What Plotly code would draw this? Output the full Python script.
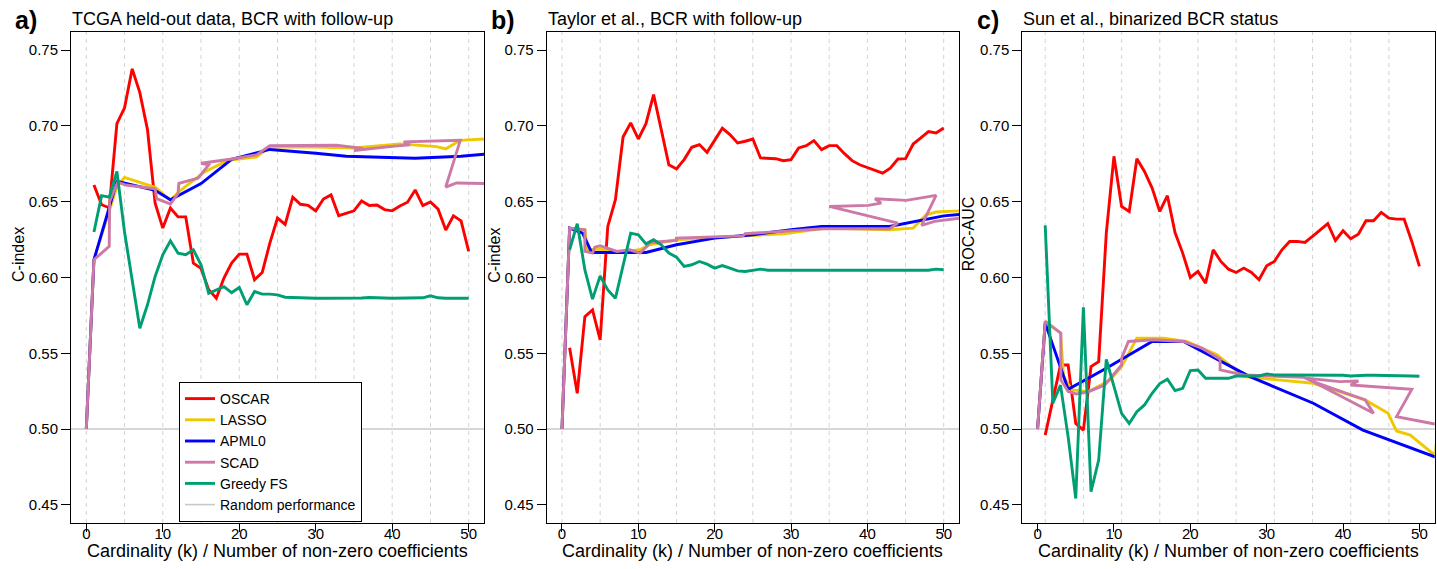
import plotly.graph_objects as go

# ---------------- data ----------------
K_INT = list(range(1, 51))

oscar_a = [0.661, 0.648, 0.646, 0.7015, 0.712, 0.7377, 0.722, 0.6976, 0.649, 0.6326,
           0.6458, 0.640, 0.640, 0.6095, 0.606, 0.592, 0.5863, 0.5996, 0.6095, 0.6154,
           0.6154, 0.5985, 0.6033, 0.6227, 0.6392, 0.6350, 0.6530, 0.6483, 0.6476, 0.644,
           0.6518, 0.6545, 0.6408, 0.6426, 0.6440, 0.6505, 0.6475, 0.6478, 0.6448, 0.644,
           0.6472, 0.6497, 0.6578, 0.6474, 0.6498, 0.6451, 0.6313, 0.6407, 0.6374, 0.6172]
greedy_a = [0.630, 0.654, 0.653, 0.670, 0.630, 0.597, 0.5665, 0.582, 0.6007, 0.615,
            0.6242, 0.616, 0.615, 0.6183, 0.6084, 0.5896, 0.592, 0.594, 0.590, 0.5934,
            0.582, 0.5907, 0.589, 0.589, 0.5885, 0.587, 0.5868, 0.5865, 0.5865, 0.5863,
            0.5863, 0.5863, 0.5863, 0.5863, 0.5863, 0.5865, 0.5868, 0.5868, 0.5865, 0.5863,
            0.5863, 0.5866, 0.5866, 0.5866, 0.5879, 0.5866, 0.5863, 0.5863, 0.5863, 0.5863]
apml0_a_k = [0, 1, 4, 9, 11, 15, 19, 24, 30, 34, 43, 49, 52, 54]
apml0_a_v = [0.50, 0.6117, 0.6635, 0.6575, 0.6513, 0.662, 0.678, 0.6845, 0.682, 0.680,
             0.6787, 0.680, 0.6813, 0.6816]
lasso_a_k = [0, 1, 4, 5, 9, 11, 12.2, 15.5, 18.5, 22.2, 24, 29.7, 35, 41, 45.8, 47, 48.9, 52, 54]
lasso_a_v = [0.50, 0.6117, 0.660, 0.666, 0.6595, 0.6511, 0.657, 0.6698, 0.6773, 0.6795,
             0.686, 0.686, 0.6855, 0.6882, 0.6864, 0.6849, 0.6905, 0.6915, 0.692]
scad_a_k = [0, 1, 3, 3.05, 4.1, 5.2, 9, 9.2, 11, 12, 12.1, 14.6, 16, 15, 18.8, 22.3, 24,
            32.7, 36.2, 35, 40, 42.3, 41.5, 48.9, 47, 48.4, 52, 54]
scad_a_v = [0.50, 0.6117, 0.6205, 0.650, 0.663, 0.661, 0.6585, 0.652, 0.6485, 0.6555,
            0.6621, 0.6655, 0.6743, 0.6754, 0.678, 0.681, 0.687, 0.6873, 0.6852, 0.6838,
            0.6865, 0.6875, 0.6895, 0.6905, 0.6597, 0.6624, 0.662, 0.6615]

oscar_b = [0.5537, 0.5236, 0.5742, 0.5786, 0.5588, 0.6337, 0.6513, 0.6927, 0.702, 0.6914,
           0.7015, 0.7207, 0.6976, 0.6744, 0.6716, 0.6778, 0.6859, 0.6877, 0.6826, 0.691,
           0.6985, 0.6943, 0.6888, 0.6899, 0.6914, 0.6789, 0.6786, 0.6784, 0.6771, 0.6778,
           0.6855, 0.687, 0.6903, 0.6844, 0.687, 0.687, 0.6817, 0.6771, 0.6744, 0.6727,
           0.6711, 0.6689, 0.6722, 0.6782, 0.6784, 0.6881, 0.6921, 0.6963, 0.6954, 0.6987]
greedy_b = [0.6183, 0.6355, 0.605, 0.5857, 0.6011, 0.5918, 0.5863, 0.6073, 0.6293, 0.6282,
            0.6222, 0.6249, 0.6216, 0.6161, 0.6134, 0.6073, 0.6084, 0.6106, 0.6088, 0.6062,
            0.6079, 0.6062, 0.6044, 0.604, 0.6048, 0.6055, 0.6048, 0.6048, 0.6048, 0.6048,
            0.6048, 0.6048, 0.6048, 0.6048, 0.6048, 0.6048, 0.6048, 0.6048, 0.6048, 0.6048,
            0.6048, 0.6048, 0.6048, 0.6048, 0.6048, 0.6048, 0.6048, 0.6048, 0.6055, 0.6051]
apml0_b_k = [0, 1, 2.7, 3.9, 11, 15, 20, 25, 30, 34, 42.9, 50, 54]
apml0_b_v = [0.50, 0.6326, 0.6293, 0.6165, 0.6165, 0.6216, 0.626, 0.6282, 0.6315, 0.6337,
             0.6337, 0.6407, 0.6425]
lasso_b_k = [0, 1, 3, 3.3, 5, 7.2, 10.2, 11.5, 15, 20.2, 24, 29, 34.6, 42.9, 46, 47.7, 49, 52, 54]
lasso_b_v = [0.50, 0.6326, 0.6315, 0.6183, 0.6187, 0.6165, 0.6183, 0.6216, 0.6249, 0.6264,
             0.6278, 0.6289, 0.6326, 0.6315, 0.6326, 0.6414, 0.6432, 0.6441, 0.6445]
scad_b_k = [0, 1, 3, 3, 4, 4.3, 5, 7.2, 8.9, 10.2, 11.1, 11.5, 15, 15, 23.7, 24, 34.2, 42.9,
            44, 35, 40.1, 41.8, 41, 45.1, 49, 47.1, 48.8, 52.1, 54]
scad_b_v = [0.50, 0.6326, 0.6315, 0.6172, 0.6161, 0.620, 0.6209, 0.6172, 0.6183, 0.6161,
            0.6205, 0.6231, 0.6244, 0.626, 0.6275, 0.6289, 0.6322, 0.6322, 0.6359, 0.6469,
            0.6476, 0.6491, 0.652, 0.6509, 0.6542, 0.6344, 0.637, 0.6392, 0.6397]

oscar_c = [0.496, 0.519, 0.5423, 0.5423, 0.5037, 0.4993, 0.5412, 0.5445, 0.6293, 0.680,
           0.6469, 0.6436, 0.6784, 0.670, 0.659, 0.6436, 0.654, 0.6297, 0.6161, 0.600,
           0.604, 0.5963, 0.6183, 0.6106, 0.6055, 0.6033, 0.6062, 0.6033, 0.5985, 0.6077,
           0.6106, 0.6183, 0.6238, 0.6238, 0.6231, 0.6271, 0.6315, 0.6355, 0.6244, 0.6308,
           0.6256, 0.6286, 0.6374, 0.6374, 0.643, 0.6392, 0.6385, 0.6385, 0.6238, 0.6073]
greedy_c = [0.6344, 0.517, 0.529, 0.495, 0.4542, 0.5804, 0.4586, 0.4795, 0.546, 0.528,
            0.5104, 0.5037, 0.5115, 0.5159, 0.5236, 0.530, 0.5329, 0.5254, 0.5269, 0.5386,
            0.539, 0.5335, 0.5335, 0.5335, 0.5335, 0.535, 0.535, 0.535, 0.535, 0.5364,
            0.5357, 0.5357, 0.5357, 0.5357, 0.5357, 0.5357, 0.5357, 0.5355, 0.5355, 0.5355,
            0.535, 0.5355, 0.5355, 0.5355, 0.5355, 0.5355, 0.5355, 0.5352, 0.535, 0.5348]
apml0_c_k = [0, 1, 4, 9, 15, 19.1, 27.8, 36.1, 42.6, 52, 54]
apml0_c_v = [0.50, 0.5699, 0.5262, 0.5401, 0.5578, 0.5578, 0.5346, 0.517, 0.4993, 0.4817, 0.478]
lasso_c_k = [0, 1, 3, 3.4, 4.5, 6.7, 9.5, 11, 13, 16.5, 19.5, 23.5, 27, 31.3, 36.1, 42.9,
             45.9, 47, 48.8, 52, 53]
lasso_c_v = [0.50, 0.571, 0.5633, 0.5346, 0.5258, 0.5247, 0.5324, 0.5412, 0.560, 0.560,
             0.5578, 0.549, 0.5346, 0.5324, 0.5302, 0.5192, 0.5104, 0.4987, 0.496, 0.4828, 0.52]
scad_c_k = [0, 1, 3.05, 3.05, 4, 5.1, 6.7, 8.8, 11, 11, 11.9, 15.2, 19.1, 21.5, 23.9, 23.9,
            27, 34.8, 36.1, 42.9, 44, 35.2, 39.6, 42, 41, 49, 47, 52, 54]
scad_c_v = [0.50, 0.571, 0.5633, 0.5324, 0.5247, 0.5232, 0.5247, 0.5291, 0.5423, 0.5467,
            0.5578, 0.5589, 0.5578, 0.5534, 0.5461, 0.539, 0.5357, 0.5342, 0.5313, 0.5192,
            0.5104, 0.5335, 0.5313, 0.5317, 0.5291, 0.5262, 0.5082, 0.5033, 0.5025]

RANDOM_LEVEL = 0.5
Y_TICKS = [0.45, 0.50, 0.55, 0.60, 0.65, 0.70, 0.75]
X_TICKS = [0, 10, 20, 30, 40, 50]
GRID_AB = list(range(0, 51, 5))
GRID_C = list(range(1, 47, 5))

panel_titles = ["TCGA held-out data, BCR with follow-up",
                "Taylor et al., BCR with follow-up",
                "Sun et al., binarized BCR status"]
panel_letters = ["a)", "b)", "c)"]
y_titles = ["C-index", "C-index", "ROC-AUC"]
x_title = "Cardinality (k) / Number of non-zero coefficients"

# ---------------- styling ----------------
W, H = 1437, 569
FONT = "Liberation Sans, Arial, Helvetica, sans-serif"
COLORS = {"OSCAR": "#FF0000", "LASSO": "#EEC900", "APML0": "#0000FF",
          "SCAD": "#CC79A7", "Greedy FS": "#009E73", "Random performance": "#C8C8C8"}
LW = 2.9

# plot-area pixel boxes (left, right) and vertical span
x_px = [(71, 484), (546.7, 959), (1022.3, 1434.7)]
letter_px = [13, 489, 975]
y_top, y_bot = 32, 523
ydom = [(H - y_bot) / H, (H - y_top) / H]

fig = go.Figure()

panels = [
    dict(oscar=oscar_a, greedy=greedy_a, apml0=(apml0_a_k, apml0_a_v),
         lasso=(lasso_a_k, lasso_a_v), scad=(scad_a_k, scad_a_v)),
    dict(oscar=oscar_b, greedy=greedy_b, apml0=(apml0_b_k, apml0_b_v),
         lasso=(lasso_b_k, lasso_b_v), scad=(scad_b_k, scad_b_v)),
    dict(oscar=oscar_c, greedy=greedy_c, apml0=(apml0_c_k, apml0_c_v),
         lasso=(lasso_c_k, lasso_c_v), scad=(scad_c_k, scad_c_v)),
]

rank = {"OSCAR": 1, "LASSO": 2, "APML0": 3, "SCAD": 4, "Greedy FS": 5, "Random performance": 6}

for i, p in enumerate(panels):
    xa = "x" if i == 0 else f"x{i+1}"
    ya = "y" if i == 0 else f"y{i+1}"
    show = i == 0

    def add(name, xs, ys):
        fig.add_trace(go.Scatter(
            x=xs, y=ys, mode="lines", name=name, legendgroup=name,
            legendrank=rank[name], showlegend=show,
            line=dict(color=COLORS[name], width=(1.6 if name == "Random performance" else LW)),
            xaxis=xa, yaxis=ya, hoverinfo="skip"))

    add("Random performance", [-10, 60], [RANDOM_LEVEL, RANDOM_LEVEL])
    add("OSCAR", K_INT, p["oscar"])
    add("LASSO", *p["lasso"])
    add("APML0", *p["apml0"])
    add("SCAD", *p["scad"])
    add("Greedy FS", K_INT, p["greedy"])

layout = dict(
    width=W, height=H, margin=dict(l=0, r=0, t=0, b=0),
    paper_bgcolor="white", plot_bgcolor="white",
    font=dict(family=FONT, color="black", size=15),
    showlegend=True,
    legend=dict(x=179 / W, y=(H - 522) / H, xanchor="left", yanchor="bottom",
                bgcolor="white", bordercolor="black", borderwidth=1,
                font=dict(size=14, family=FONT, color="black"),
                traceorder="normal"),
)

shapes = []
annotations = []
for i in range(3):
    sfx = "" if i == 0 else str(i + 1)
    l, r = x_px[i]
    layout[f"xaxis{sfx}"] = dict(
        domain=[l / W, r / W], range=[-2, 52], anchor=f"y{sfx}",
        tickmode="array", tickvals=X_TICKS, ticktext=[str(v) for v in X_TICKS],
        ticks="outside", ticklen=8, tickwidth=1, tickcolor="black",
        ticklabelstandoff=-11,
        showline=True, linecolor="black", linewidth=1, mirror=True,
        showgrid=False, zeroline=False, tickfont=dict(size=15))
    layout[f"yaxis{sfx}"] = dict(
        domain=ydom, range=[0.438, 0.762], anchor=f"x{sfx}",
        tickmode="array", tickvals=Y_TICKS, ticktext=[f"{v:.2f}" for v in Y_TICKS],
        ticks="outside", ticklen=9, tickwidth=1, tickcolor="black",
        showline=True, linecolor="black", linewidth=1, mirror=True,
        showgrid=False, zeroline=False, tickfont=dict(size=15))
    grid = GRID_C if i == 2 else GRID_AB
    for g in grid:
        shapes.append(dict(type="line", xref=f"x{sfx}", yref=f"y{sfx} domain",
                           x0=g, x1=g, y0=0, y1=1, layer="below",
                           line=dict(color="#D3D3D3", width=1, dash="4px,4px")))
    # panel title & letter
    annotations.append(dict(text=panel_titles[i], xref="paper", yref="paper",
                            x=(l - 1) / W, y=1 - 19 / H, xanchor="left", yanchor="middle",
                            showarrow=False, font=dict(size=18, family=FONT)))
    annotations.append(dict(text="<b>" + panel_letters[i] + "</b>", xref="paper", yref="paper",
                            x=letter_px[i] / W, y=1 - 20 / H, xanchor="left", yanchor="middle",
                            showarrow=False, font=dict(size=25, family=FONT)))
    # axis titles
    annotations.append(dict(text=x_title, xref="paper", yref="paper",
                            x=(l + r) / 2 / W, y=1 - 551 / H, xanchor="center", yanchor="middle",
                            showarrow=False, font=dict(size=18, family=FONT)))
    ymid = 234 if i == 2 else 255
    annotations.append(dict(text=y_titles[i], xref="paper", yref="paper", textangle=-90,
                            x=(l - 53) / W, y=1 - ymid / H, xanchor="center", yanchor="middle",
                            showarrow=False, font=dict(size=16, family=FONT)))

layout["shapes"] = shapes
layout["annotations"] = annotations
fig.update_layout(**layout)
fig.write_html("out.html")
